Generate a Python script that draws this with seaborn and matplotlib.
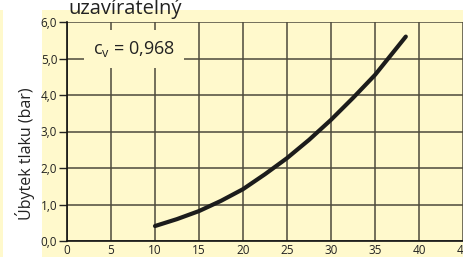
"""Pressure drop vs flow for a shut-off valve (c_v = 0,968)."""

import matplotlib

matplotlib.use("Agg")
import matplotlib.pyplot as plt
import matplotlib.patches as mpatches
import pandas as pd
import seaborn as sns
from matplotlib.ticker import FuncFormatter

YELLOW = "#fff9cc"
GRID = "#4d4a3c"

# values
flow = [10, 12.5, 15, 17.5, 20, 22.5, 25, 27.5, 30, 32.5, 35, 38.5]
dp_bar = [0.41, 0.60, 0.82, 1.10, 1.42, 1.83, 2.27, 2.77, 3.32, 3.92, 4.55, 5.60]
x_ticks = [0, 5, 10, 15, 20, 25, 30, 35, 40, 45]
y_ticks = [0.0, 1.0, 2.0, 3.0, 4.0, 5.0, 6.0]
title = "uzavíratelný"
ylabel = "Úbytek tlaku (bar)"
cv_label = "c$_\\mathrm{v}$ = 0,968"

sns.set_style("ticks")
plt.rcParams["font.family"] = ["Open Sans", "DejaVu Sans"]
plt.rcParams["mathtext.fontset"] = "custom"
plt.rcParams["mathtext.rm"] = "Open Sans"

df = pd.DataFrame({"flow": flow, "dp": dp_bar})

fig = plt.figure(figsize=(4.63, 2.57), dpi=100)
fig.patch.set_facecolor("white")
# yellow panel behind the chart plus thin strip on the far left
fig.patches.append(
    mpatches.Rectangle((42 / 463, 0), 1, 247 / 257, transform=fig.transFigure,
                       facecolor=YELLOW, edgecolor="none", zorder=-5)
)
fig.patches.append(
    mpatches.Rectangle((0, 0), 3 / 463, 247 / 257, transform=fig.transFigure,
                       facecolor=YELLOW, edgecolor="none", zorder=-5)
)

ax = fig.add_axes([67 / 463, 16 / 257, 396 / 463, 219 / 257])
ax.set_facecolor(YELLOW)

sns.lineplot(data=df, x="flow", y="dp", ax=ax, color="#1c1c1c", linewidth=3.0)

ax.set_xlim(0, 45)
ax.set_ylim(0, 6)
ax.set_xticks(x_ticks)
ax.set_yticks(y_ticks)
ax.yaxis.set_major_formatter(FuncFormatter(lambda v, _: f"{v:.1f}".replace(".", ",")))
ax.grid(True, color=GRID, linewidth=1.1)
ax.set_axisbelow(True)
ax.tick_params(axis="x", length=0, pad=2, labelsize=8.5, colors="#222222")
ax.tick_params(axis="y", length=6, width=1.0, pad=1, labelsize=8.5,
               colors="#222222", direction="out")
for side in ("top", "right"):
    ax.spines[side].set_visible(False)
for side in ("left", "bottom"):
    ax.spines[side].set_color("#111111")
    ax.spines[side].set_linewidth(1.2)

ax.set_xlabel("")
ax.set_ylabel("")
fig.text(25 / 463, 1 - 154 / 257, ylabel, fontsize=11.5, color="#222222",
         rotation=90, ha="center", va="center")

ax.text(7.6, 5.27, cv_label, fontsize=13, color="#222222", ha="center", va="center",
        bbox=dict(boxstyle="square,pad=0.5", facecolor=YELLOW, edgecolor="none"))

fig.text(125 / 463, 1 - 14 / 257, title, fontsize=14.5, color="#222222",
         ha="center", va="baseline")

fig.savefig("out.png", dpi=100)
